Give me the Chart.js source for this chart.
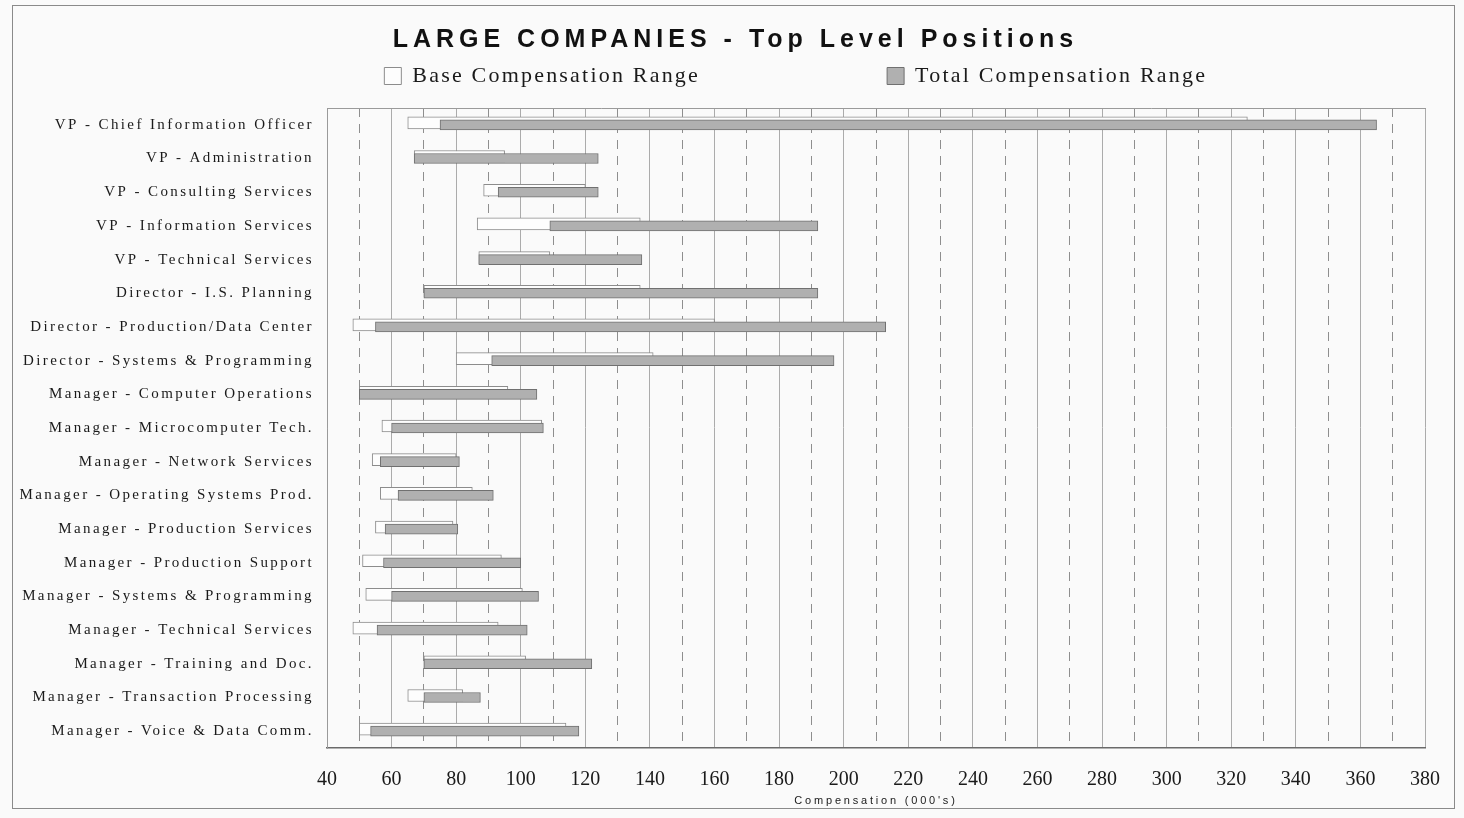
<!DOCTYPE html>
<html>
<head>
<meta charset="utf-8">
<script src="https://cdn.jsdelivr.net/npm/chart.js@4/dist/chart.umd.min.js"></script>
<style>
  html, body { margin: 0; padding: 0; background: #fafafa; }
  #wrap { position: relative; width: 1464px; height: 818px; }
  #frame { position: absolute; left: 12px; top: 5px; width: 1441px; height: 802px; border: 1px solid #8a8a8a; pointer-events: none; }
</style>
</head>
<body>
<div id="wrap">
  <canvas id="c"></canvas>
  <div id="frame"></div>
</div>
<script>
// ---- data (in $000s) ----
const positions = [
  'VP - Chief Information Officer',
  'VP - Administration',
  'VP - Consulting Services',
  'VP - Information Services',
  'VP - Technical Services',
  'Director - I.S. Planning',
  'Director - Production/Data Center',
  'Director - Systems & Programming',
  'Manager - Computer Operations',
  'Manager - Microcomputer Tech.',
  'Manager - Network Services',
  'Manager - Operating Systems Prod.',
  'Manager - Production Services',
  'Manager - Production Support',
  'Manager - Systems & Programming',
  'Manager - Technical Services',
  'Manager - Training and Doc.',
  'Manager - Transaction Processing',
  'Manager - Voice & Data Comm.'
];
const baseLow   = [65, 67, 88.5, 86.5, 87, 70, 48, 80, 50, 57, 54, 56.5, 55, 51, 52, 48, 70, 65, 50];
const baseHigh  = [325, 95, 120, 137, 109, 137, 160, 141, 96, 106.5, 80, 85, 79, 94, 100.5, 93, 101.5, 82, 114];
const totalLow  = [75, 67, 93, 109, 87, 70, 55, 91, 50, 60, 56.5, 62, 58, 57.5, 60, 55.5, 70, 70, 53.5];
const totalHigh = [365, 124, 124, 192, 137.5, 192, 213, 197, 105, 107, 81, 91.5, 80.5, 100, 105.5, 102, 122, 87.5, 118];
const seriesNames = ['Base Compensation Range', 'Total Compensation Range'];
const chartTitle = 'LARGE COMPANIES - Top Level Positions';
const xTitle = "Compensation (000's)";
const xMin = 40, xMax = 380, xStep = 10, xLabelStep = 20;

const baseRanges = baseLow.map((v, i) => [v, baseHigh[i]]);
const totalRanges = totalLow.map((v, i) => [v, totalHigh[i]]);

// ---- styling helpers ----
const LEGEND_GAP = ['\u00a0'.repeat(23), '\u00a0'.repeat(27)];
const TITLE_SHIFT = '\u00a0'.repeat(3);
const SPACING = { title: '5px', legend: '2.2px', yLabels: '2.4px', xTitle: '2.8px' };

function wrapSpacing(obj, method, sp, chart) {
  if (!obj || obj['_sp_' + method]) return;
  const orig = obj[method];
  obj[method] = function (...args) {
    const c = chart.ctx;
    const prev = c.letterSpacing;
    c.letterSpacing = sp;
    const r = orig.apply(this, args);
    c.letterSpacing = prev || '0px';
    return r;
  };
  obj['_sp_' + method] = true;
}

const spacingPlugin = {
  id: 'letterSpacing',
  beforeLayout(chart) { chart.ctx.letterSpacing = SPACING.legend; },
  afterLayout(chart) {
    chart.ctx.letterSpacing = '0px';
    wrapSpacing(chart.titleBlock, 'draw', SPACING.title, chart);
    wrapSpacing(chart.legend, 'draw', SPACING.legend, chart);
    wrapSpacing(chart.scales.y, 'drawLabels', SPACING.yLabels, chart);
    wrapSpacing(chart.scales.x, 'drawTitle', SPACING.xTitle, chart);
  }
};

const barOffsetPlugin = {
  id: 'barOffset',
  beforeDatasetDraw(chart, args) {
    if (args.index === 0) { chart.ctx.save(); chart.ctx.translate(0, -2); }
  },
  afterDatasetDraw(chart, args) {
    if (args.index === 0) chart.ctx.restore();
  }
};

Chart.defaults.font.family = "'Liberation Serif', 'Times New Roman', serif";
Chart.defaults.color = '#1a1a1a';

new Chart(document.getElementById('c'), {
  type: 'bar',
  data: {
    labels: positions,
    datasets: [
      {
        label: seriesNames[0],
        data: baseRanges,
        backgroundColor: '#fdfdfd',
        borderColor: '#8c8c8c',
        borderWidth: 1,
        borderSkipped: false,
        barThickness: 12,
        grouped: false,
        order: 2
      },
      {
        label: seriesNames[1],
        data: totalRanges,
        backgroundColor: '#b0b0b0',
        borderColor: '#707070',
        borderWidth: 1,
        borderSkipped: false,
        barThickness: 10,
        grouped: false,
        order: 1
      }
    ]
  },
  plugins: [spacingPlugin, barOffsetPlugin],
  options: {
    indexAxis: 'y',
    responsive: true,
    maintainAspectRatio: false,
    animation: false,
    events: [],
    layout: { padding: { left: 10, right: 39, top: 0, bottom: 0 } },
    plugins: {
      title: {
        display: true,
        text: TITLE_SHIFT + chartTitle,
        font: { family: "'Liberation Sans', Arial, sans-serif", size: 25, weight: 'bold' },
        color: '#111',
        padding: { top: 25, bottom: 0 }
      },
      legend: {
        display: true,
        position: 'top',
        align: 'end',
        labels: {
          boxWidth: 17,
          boxHeight: 17,
          padding: 10,
          color: '#1a1a1a',
          font: { family: "'Liberation Serif', 'Times New Roman', serif", size: 22 },
          generateLabels(chart) {
            const items = Chart.defaults.plugins.legend.labels.generateLabels(chart);
            items.sort((a, b) => a.datasetIndex - b.datasetIndex);
            items.forEach((it, i) => { it.text = it.text + LEGEND_GAP[i]; });
            return items;
          }
        }
      },
      tooltip: { enabled: false }
    },
    scales: {
      x: {
        type: 'linear',
        position: 'bottom',
        min: xMin,
        max: xMax,
        afterFit(s) { s.height = 70; },
        ticks: {
          stepSize: xStep,
          autoSkip: false,
          maxRotation: 0,
          padding: 20,
          font: { size: 20 },
          color: '#1a1a1a',
          callback: (v) => (v % xLabelStep === 0 ? String(v) : '')
        },
        grid: {
          drawTicks: false,
          color: (c) => (c.tick && c.tick.value % xLabelStep === 0 ? '#ababab' : '#8e8e8e'),
          lineWidth: 1
        },
        border: {
          display: true,
          color: '#6a6a6a',
          width: 1.5,
          dash: (c) => (c.tick && c.tick.value % xLabelStep !== 0 ? [9, 7] : [])
        },
        title: {
          display: true,
          text: xTitle,
          font: { family: "'Liberation Sans', Arial, sans-serif", size: 11 },
          color: '#1a1a1a',
          padding: { top: 0, bottom: 10 }
        }
      },
      x2: {
        type: 'linear',
        position: 'top',
        min: xMin,
        max: xMax,
        afterFit(s) { s.height = 11; },
        ticks: { display: false },
        grid: { display: false, drawTicks: false },
        border: { display: true, color: '#9a9a9a', width: 1 }
      },
      y: {
        type: 'category',
        afterFit(s) { s.width = 317; },
        ticks: {
          padding: 13,
          font: { size: 15 },
          color: '#1a1a1a',
          autoSkip: false
        },
        grid: { display: false, drawTicks: false },
        border: { display: true, color: '#9a9a9a', width: 1 }
      }
    }
  }
});
</script>
</body>
</html>
